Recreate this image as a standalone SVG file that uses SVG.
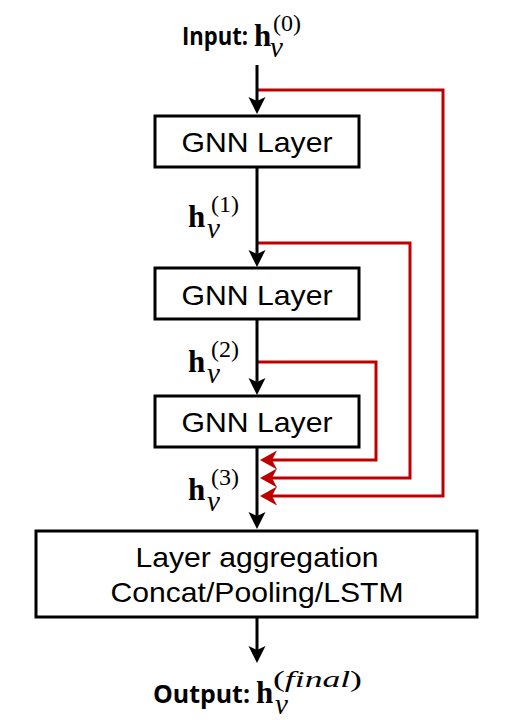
<svg xmlns="http://www.w3.org/2000/svg" width="523" height="720" viewBox="0 0 523 720">
<style>
.box{fill:#fff;stroke:#000;stroke-width:3}
.blk{fill:none;stroke:#000;stroke-width:3}
.red{fill:none;stroke:#c00000;stroke-width:3}
.lbl{font-family:"Liberation Sans",Arial,sans-serif;font-size:28px;fill:#000}
.io{font-family:"Open Sans",Lato,sans-serif;font-weight:700;font-size:25px;fill:#000}
.h{font-family:"Liberation Serif","Times New Roman",serif;font-weight:700;font-size:31px;fill:#000}
.v{font-family:"Liberation Serif","Times New Roman",serif;font-style:italic;font-size:29px;fill:#000}
.sup{font-family:"Liberation Serif","Times New Roman",serif;font-size:24px;fill:#000}
</style>
<defs>
<marker id="ab" markerUnits="userSpaceOnUse" markerWidth="18" markerHeight="18" viewBox="0 0 18 18" refX="13" refY="9" orient="auto">
<path d="M0,0.5 L17,9 L0,17.5 L4,9 z" fill="#000"/>
</marker>
<marker id="ar" markerUnits="userSpaceOnUse" markerWidth="18" markerHeight="20" viewBox="0 0 18 20" refX="14" refY="10" orient="auto">
<path d="M0,0.5 L17,10 L0,19.5 L5,10 z" fill="#c00000"/>
</marker>
</defs>

<g id="connectors">
<path class="red" d="M257,90 H443 V496 H263" marker-end="url(#ar)"/>
<path class="red" d="M257,243 H410 V478 H263" marker-end="url(#ar)"/>
<path class="red" d="M257,362 H376 V460 H263" marker-end="url(#ar)"/>
<path class="blk" d="M257,65 V110" marker-end="url(#ab)"/>
<path class="blk" d="M257,167 V263" marker-end="url(#ab)"/>
<path class="blk" d="M257,319 V391" marker-end="url(#ab)"/>
<path class="blk" d="M257,447 V525" marker-end="url(#ab)"/>
<path class="blk" d="M257,617 V659" marker-end="url(#ab)"/>
</g>

<g id="input">
<text class="io" x="182" y="45" textLength="66" lengthAdjust="spacingAndGlyphs">Input:</text>
<text class="h" x="254" y="46">h</text>
<text class="v" x="270" y="57">v</text>
<text class="sup" x="273" y="31">(0)</text>
</g>

<g id="gnn1">
<rect class="box" x="155" y="116" width="204" height="51"/>
<text class="lbl" x="257" y="152" text-anchor="middle" textLength="151" lengthAdjust="spacingAndGlyphs">GNN Layer</text>
</g>

<g id="h1">
<text class="h" x="188" y="227">h</text>
<text class="v" x="207" y="238">v</text>
<text class="sup" x="211" y="212">(1)</text>
</g>

<g id="gnn2">
<rect class="box" x="155" y="268" width="204" height="51"/>
<text class="lbl" x="257" y="305" text-anchor="middle" textLength="151" lengthAdjust="spacingAndGlyphs">GNN Layer</text>
</g>

<g id="h2">
<text class="h" x="188" y="372">h</text>
<text class="v" x="207" y="383">v</text>
<text class="sup" x="211" y="357">(2)</text>
</g>

<g id="gnn3">
<rect class="box" x="155" y="396" width="204" height="51"/>
<text class="lbl" x="257" y="432" text-anchor="middle" textLength="151" lengthAdjust="spacingAndGlyphs">GNN Layer</text>
</g>

<g id="h3">
<text class="h" x="188" y="500">h</text>
<text class="v" x="207" y="511">v</text>
<text class="sup" x="211" y="485">(3)</text>
</g>

<g id="aggregation">
<rect class="box" x="36" y="531" width="441" height="86"/>
<text class="lbl" x="257" y="567" text-anchor="middle" textLength="243" lengthAdjust="spacingAndGlyphs">Layer aggregation</text>
<text class="lbl" x="257" y="602" text-anchor="middle" textLength="293" lengthAdjust="spacingAndGlyphs">Concat/Pooling/LSTM</text>
</g>

<g id="output">
<text class="io" x="153" y="703" textLength="97" lengthAdjust="spacingAndGlyphs">Output:</text>
<text class="h" x="256" y="703">h</text>
<text class="v" x="275" y="714">v</text>
<text class="sup" x="273" y="687" textLength="89" lengthAdjust="spacingAndGlyphs">(<tspan font-style="italic">final</tspan>)</text>
</g>
</svg>
